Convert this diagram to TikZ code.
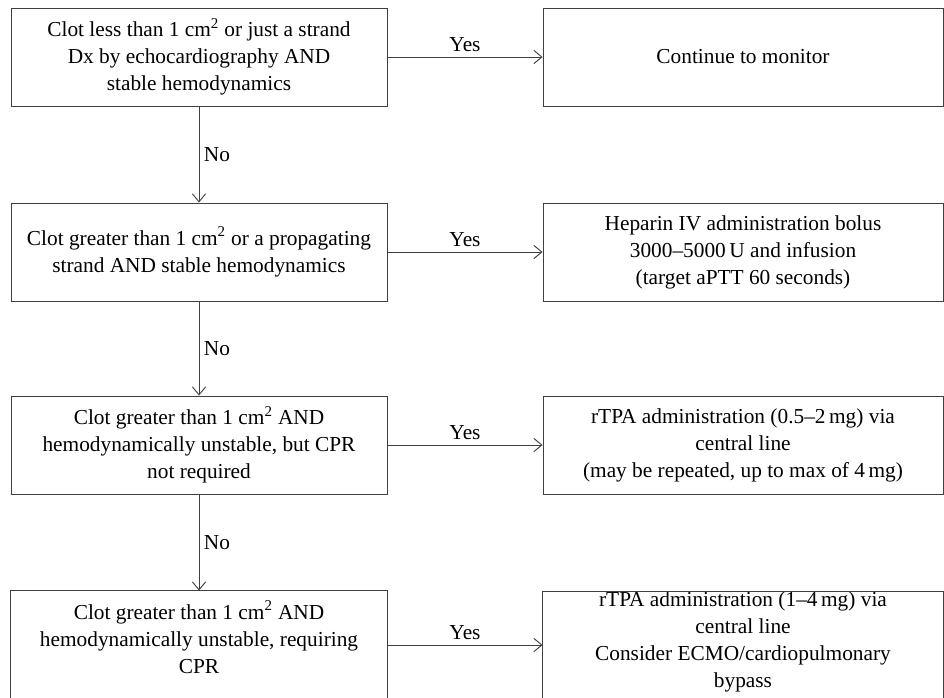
\documentclass[tikz,border=0pt]{standalone}
\usepackage{fontspec}
\setmainfont{Liberation Serif}
\usetikzlibrary{arrows.meta}
\tikzset{
  qbox/.style={draw=black!75, line width=0.7pt, minimum width=282pt, minimum height=73.5pt,
    align=center, inner sep=2pt, font=\fontsize{16}{20.25}\selectfont},
  abox/.style={qbox, minimum width=300pt},
  cutbox/.style={draw=none},
  boxline/.style={draw=black!75, line width=0.7pt},
  arr/.style={draw=black!75, line width=0.7pt, -{Straight Barb[length=6pt,width=10pt]}},
  lbl/.style={font=\fontsize{16}{20.25}\selectfont}
}
\begin{document}
\begin{tikzpicture}[x=0.75pt,y=-0.75pt]
    \clip (0,0) rectangle (944,697);
    \node[qbox] (q1) at (199,57) {Clot less than 1 cm\textsuperscript{2} or just a strand\\Dx by echocardiography AND\\stable hemodynamics};
    \node[abox] (a1) at (743,57) {Continue to monitor};
    \node[qbox] (q2) at (199,252) {Clot greater than 1 cm\textsuperscript{2} or a propagating\\strand AND stable hemodynamics};
    \node[abox] (a2) at (743,252) {Heparin IV administration bolus\\3000--5000\,U and infusion\\(target aPTT 60 seconds)};
    \node[qbox] (q3) at (199,445) {Clot greater than 1 cm\textsuperscript{2} AND\\hemodynamically unstable, but CPR\\not required};
    \node[abox] (a3) at (743,445) {rTPA administration (0.5--2\,mg) via\\central line\\(may be repeated, up to max of 4\,mg)};
    \node[qbox, cutbox, minimum height=69pt] (q4) at (199,637) {Clot greater than 1 cm\textsuperscript{2} AND\\hemodynamically unstable, requiring\\CPR};
    \node[abox, cutbox, anchor=north, inner ysep=0pt] (a4) at (743,591) {rTPA administration (1--4\,mg) via\\central line\\Consider ECMO/cardiopulmonary\\bypass};
    \draw[boxline] ([yshift=-20pt]q4.south west) |- (q4.north east) -- ([yshift=-20pt]q4.south east);
    \draw[boxline] ([yshift=-20pt]a4.south west) |- (a4.north east) -- ([yshift=-20pt]a4.south east);
    \foreach \q/\r in {q1/q2,q2/q3,q3/q4}
      \draw[arr] (\q) -- node[lbl, right] {No} (\r);
    \foreach \q/\a in {q1/a1,q2/a2,q3/a3}
      \draw[arr] (\q) -- node[lbl, above] {Yes} (\a);
    \coordinate (y4) at ([yshift=-6pt]q4.east);
    \draw[arr] (y4) -- node[lbl, above] {Yes} (y4 -| a4.west);
  \end{tikzpicture}
\end{document}
